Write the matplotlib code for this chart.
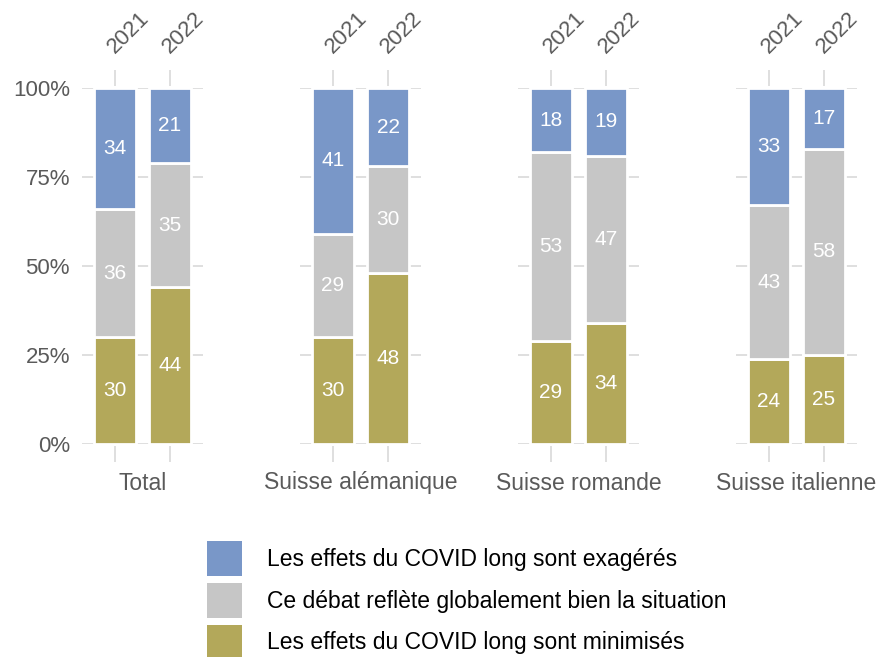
import numpy as np
import matplotlib
matplotlib.use("Agg")
import matplotlib.pyplot as plt
from matplotlib.patches import Patch
from matplotlib.transforms import blended_transform_factory

plt.rcParams['font.family'] = ['Liberation Sans', 'DejaVu Sans']

regions = ["Total", "Suisse alémanique", "Suisse romande", "Suisse italienne"]
years = ["2021", "2022"]
# bottom -> top: minimisés, débat ok, exagérés  (one pair of values per region: 2021, 2022)
minimises = [[30, 44], [30, 48], [29, 34], [24, 25]]
debat_ok = [[36, 35], [29, 30], [53, 47], [43, 58]]
exageres = [[34, 21], [41, 22], [18, 19], [33, 17]]

series = [minimises, debat_ok, exageres]
colors = ["#b3a85a", "#c6c6c6", "#7997c8"]
labels = ["Les effets du COVID long sont minimisés",
          "Ce débat reflète globalement bien la situation",
          "Les effets du COVID long sont exagérés"]
y_ticks = [0, 25, 50, 75, 100]

W, H = 879, 657
fig = plt.figure(figsize=(W / 100, H / 100), dpi=100)

grid_col = "#d6d6d6"
text_col = "#5a5a5a"
x = np.arange(len(years))

for i, reg in enumerate(regions):
    left = 82 + 218 * i
    ax = fig.add_axes([left / W, 1 - 444 / H, 121 / W, 356 / H])
    bottom = np.zeros(len(years))
    for vals, col in zip(series, colors):
        v = np.array(vals[i], dtype=float)
        ax.bar(x, v, bottom=bottom, width=0.78, color=col,
               edgecolor="white", linewidth=2, zorder=2)
        for xi, (b, h) in enumerate(zip(bottom, v)):
            ax.text(xi, b + h / 2, f"{int(h)}", ha="center", va="center",
                    color="white", fontsize=15, zorder=3)
        bottom += v

    ax.set_xlim(-0.6, 1.6)
    ax.set_ylim(0, 100)
    ax.set_yticks(y_ticks)
    ax.set_yticklabels([f"{t}%" for t in y_ticks])
    ax.yaxis.grid(True, color=grid_col, linewidth=1.1)
    ax.set_axisbelow(True)
    for s in ax.spines.values():
        s.set_visible(False)
    ax.spines['bottom'].set_position(('outward', 1.5))
    ax.spines['top'].set_position(('outward', 1.5))
    ax.set_xticks(x)
    ax.tick_params(axis="x", which="both", top=True, bottom=True,
                   labeltop=False, labelbottom=False,
                   length=11.3, width=1.1, color=grid_col, direction="out")
    ax.tick_params(axis="y", length=0, pad=8.6, labelsize=16, labelcolor=text_col)
    if i > 0:
        ax.tick_params(axis="y", labelleft=False)

    trans = blended_transform_factory(ax.transData, ax.transAxes)
    for xi, yr in enumerate(years):
        ax.text(xi - 0.01, 1.096, yr, transform=trans, rotation=45,
                rotation_mode="anchor", ha="left", va="baseline",
                fontsize=16, color=text_col)
    ax.text(0.5, -39 / 356, reg, transform=ax.transAxes, ha="center",
            va="center", fontsize=16.5, color=text_col)

handles = [Patch(facecolor=c, edgecolor="none") for c in colors[::-1]]
fig.legend(handles, labels[::-1], loc="upper left",
           bbox_to_anchor=(207 / W, 1 - 541 / H), frameon=False,
           fontsize=16.5, handlelength=1.53, handleheight=1.97,
           handletextpad=1.09, labelspacing=0.3, borderpad=0, borderaxespad=0)

fig.savefig("out.png", dpi=100)
